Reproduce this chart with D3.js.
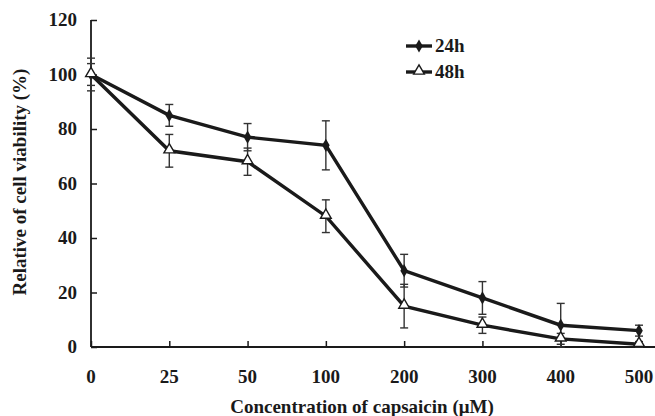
<!DOCTYPE html>
<html>
<head>
<meta charset="utf-8">
<script src="https://cdn.jsdelivr.net/npm/d3@7"></script>
<style>
  body { margin: 0; background: #fff; }
  text { font-family: "Liberation Serif", "Times New Roman", serif; font-weight: bold; fill: #1a1a1a; }
</style>
</head>
<body>
<div id="chart"></div>
<script>
// chart data
var concentrations = ["0", "25", "50", "100", "200", "300", "400", "500"];
var viability24 = [100, 85, 77, 74, 28, 18, 8, 6];
var error24     = [6, 4, 5, 9, 6, 6, 8, 2];
var viability48 = [100, 72, 68, 48, 15, 8, 3, 1];
var error48     = [4, 6, 5, 6, 8, 3, 2, 1];
var yTicks = [0, 20, 40, 60, 80, 100, 120];

var WIDTH = 655, HEIGHT = 416;
var LEFT = 91, RIGHT = 639, TOP = 20, BOTTOM = 347;
var INK = "#1a1a1a";

var svg = d3.select("#chart").append("svg")
  .attr("width", WIDTH).attr("height", HEIGHT);

var x = d3.scalePoint().domain(concentrations).range([LEFT, RIGHT]);
var y = d3.scaleLinear().domain([0, 120]).range([BOTTOM, TOP]);

// ---------------- axes ----------------
var gY = svg.append("g").attr("transform", "translate(" + LEFT + ",0)")
  .call(d3.axisRight(y).tickValues(yTicks).tickSize(6).tickFormat(""));
gY.select(".domain").attr("stroke", INK).attr("stroke-width", 1.8).attr("d", "M0," + TOP + "V" + BOTTOM);
gY.selectAll(".tick line").attr("stroke", INK).attr("stroke-width", 1.5);

yTicks.forEach(function(v){
  svg.append("text").text(v)
    .attr("x", 77).attr("y", y(v) + 6)
    .style("text-anchor", "end").style("font-size", "19px");
});

var gX = svg.append("g").attr("transform", "translate(0," + BOTTOM + ")")
  .call(d3.axisTop(x).tickSize(6).tickFormat(""));
gX.select(".domain").attr("stroke", INK).attr("stroke-width", 1.8).attr("d", "M" + LEFT + ",0H655");
gX.selectAll(".tick line").attr("stroke", INK).attr("stroke-width", 1.5);

concentrations.forEach(function(c){
  svg.append("text").text(c)
    .attr("x", x(c)).attr("y", 383)
    .style("text-anchor", "middle").style("font-size", "19px");
});

// axis titles
svg.append("text").text("Concentration of capsaicin (\u03bcM)")
  .attr("x", 362).attr("y", 413)
  .style("text-anchor", "middle").style("font-size", "19px");

svg.append("text").text("Relative of cell viability (%)")
  .attr("transform", "translate(26,182) rotate(-90)")
  .style("text-anchor", "middle").style("font-size", "19px");

// ---------------- series ----------------
function drawSeries(values, errors, marker){
  var g = svg.append("g");
  var pts = concentrations.map(function(c, i){ return {c: c, v: values[i], e: errors[i]}; });

  // error bars
  pts.forEach(function(d){
    var xx = x(d.c);
    g.append("line").attr("x1", xx).attr("x2", xx)
      .attr("y1", y(d.v + d.e)).attr("y2", y(d.v - d.e))
      .attr("stroke", "#333").attr("stroke-width", 1.4);
    [d.v + d.e, d.v - d.e].forEach(function(v){
      g.append("line").attr("x1", xx - 4).attr("x2", xx + 4)
        .attr("y1", y(v)).attr("y2", y(v))
        .attr("stroke", "#333").attr("stroke-width", 1.4);
    });
  });

  g.append("path").datum(pts)
    .attr("fill", "none").attr("stroke", INK).attr("stroke-width", 3.4)
    .attr("d", d3.line().x(function(d){ return x(d.c); }).y(function(d){ return y(d.v); }));

  pts.forEach(function(d){ _drawMarker(g, marker, x(d.c), y(d.v)); });
}

function _drawMarker(g, marker, cx, cy){
  if (marker == "diamond"){
    g.append("path").attr("d", d3.symbol().type(d3.symbolDiamond).size(50)())
      .attr("transform", "translate(" + cx + "," + cy + ")")
      .attr("fill", INK);
  } else {
    g.append("path").attr("d", d3.symbol().type(d3.symbolTriangle).size(50)())
      .attr("transform", "translate(" + cx + "," + (cy - 1) + ")")
      .attr("fill", "#fff").attr("stroke", INK).attr("stroke-width", 1.4);
  }
}

drawSeries(viability24, error24, "diamond");
drawSeries(viability48, error48, "triangle");

// ---------------- legend ----------------
var legend = [{name: "24h", marker: "diamond", y: 46}, {name: "48h", marker: "triangle", y: 72}];
legend.forEach(function(l){
  svg.append("line").attr("x1", 406).attr("x2", 432).attr("y1", l.y).attr("y2", l.y)
    .attr("stroke", INK).attr("stroke-width", 3.4);
  _drawMarker(svg, l.marker, 419, l.y);
  svg.append("text").text(l.name).attr("x", 435).attr("y", l.y + 6)
    .style("font-size", "19px");
});
</script>
</body>
</html>
